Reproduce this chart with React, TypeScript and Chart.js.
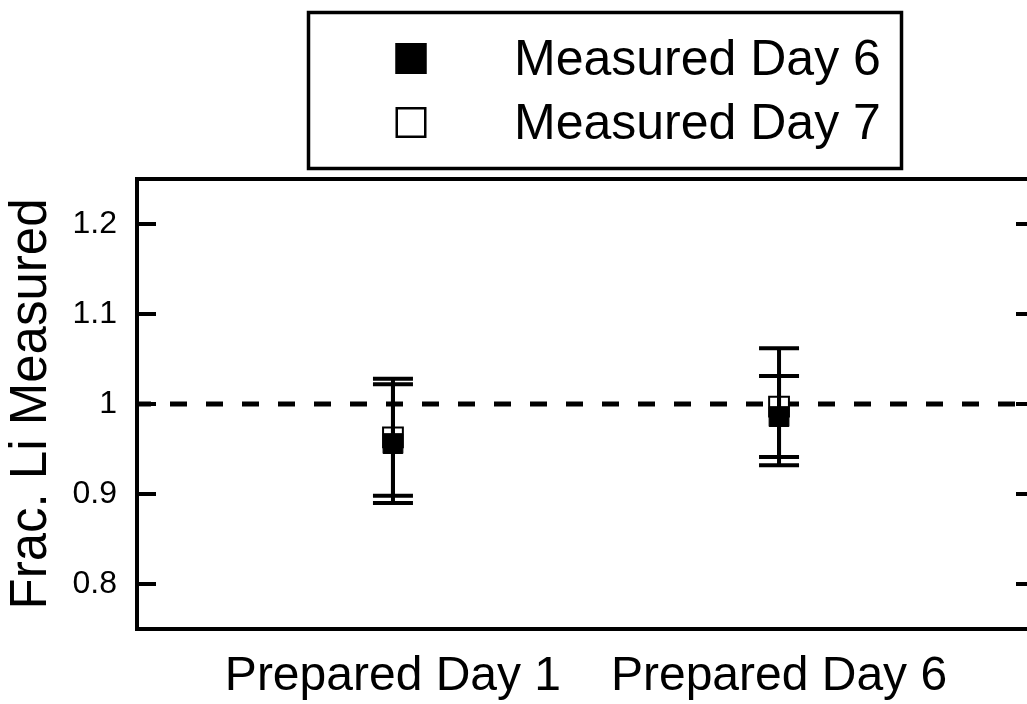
import React, { useEffect, useRef } from "react";
import { Chart, registerables } from "chart.js";

Chart.register(...registerables);

// ---------------- data ----------------
const CATEGORIES = ["Prepared Day 1", "Prepared Day 6"];
const CATEGORY_X = [1, 2];
const SERIES_LABELS = ["Measured Day 6", "Measured Day 7"];
const DAY6_MEAN = [0.956, 0.986];
const DAY6_ERR = [0.066, 0.045];
const DAY7_MEAN = [0.963, 0.997];
const DAY7_ERR = [0.065, 0.065];
const Y_TICKS = [0.8, 0.9, 1.0, 1.1, 1.2];
const Y_MIN = 0.75;
const Y_MAX = 1.25;
const X_MIN = 0.337;
const X_MAX = 2.663;
const REFERENCE_Y = 1;
const Y_TITLE = "Frac. Li Measured";

const FONT = "'Liberation Sans', Arial, Helvetica, sans-serif";

const referenceLinePlugin = {
  id: "referenceLine",
  beforeDatasetsDraw(chart: any) {
    const { ctx, chartArea } = chart;
    const y = chart.scales.y.getPixelForValue(REFERENCE_Y);
    ctx.save();
    ctx.strokeStyle = "#000";
    ctx.lineWidth = 5;
    ctx.setLineDash([17, 19]);
    ctx.lineDashOffset = 3;
    ctx.beginPath();
    ctx.moveTo(chartArea.left, y);
    ctx.lineTo(chartArea.right, y);
    ctx.stroke();
    ctx.restore();
  },
};

const errorBarPlugin = {
  id: "errorBars",
  afterDatasetsDraw(chart: any) {
    const { ctx } = chart;
    const xs = chart.scales.x;
    const ys = chart.scales.y;
    ctx.save();
    ctx.strokeStyle = "#000";
    ctx.lineWidth = 4;
    ctx.setLineDash([]);
    chart.data.datasets.forEach((ds: any) => {
      ds.data.forEach((p: any) => {
        const x = xs.getPixelForValue(p.x);
        const yt = ys.getPixelForValue(p.y + p.err);
        const yb = ys.getPixelForValue(p.y - p.err);
        ctx.beginPath();
        ctx.moveTo(x, yt);
        ctx.lineTo(x, yb);
        ctx.moveTo(x - 20, yt);
        ctx.lineTo(x + 20, yt);
        ctx.moveTo(x - 20, yb);
        ctx.lineTo(x + 20, yb);
        ctx.stroke();
      });
    });
    ctx.restore();
  },
};

const framePlugin = {
  id: "frame",
  afterDraw(chart: any) {
    const { ctx, chartArea } = chart;
    const { left, right, top, bottom } = chartArea;
    const ys = chart.scales.y;
    ctx.save();
    ctx.strokeStyle = "#000";
    ctx.lineWidth = 4;
    ctx.setLineDash([]);
    ctx.strokeRect(left, top, right - left, bottom - top);
    ys.ticks.forEach((t: any) => {
      const y = ys.getPixelForValue(t.value);
      ctx.beginPath();
      ctx.moveTo(left, y);
      ctx.lineTo(left + 19, y);
      ctx.moveTo(right - 19, y);
      ctx.lineTo(right, y);
      ctx.stroke();
    });
    ctx.restore();
  },
};

const boxLegendPlugin = {
  id: "boxLegend",
  afterDraw(chart: any) {
    const { ctx } = chart;
    ctx.save();
    ctx.strokeStyle = "#000";
    ctx.lineWidth = 3.5;
    ctx.setLineDash([]);
    ctx.strokeRect(308.5, 12.5, 593, 156);
    chart.data.datasets.forEach((ds: any, i: number) => {
      const cy = 58.5 + i * 64;
      ctx.fillStyle = ds.backgroundColor;
      ctx.fillRect(395.5, cy - 15.5, 31, 31);
      ctx.lineWidth = 2.5;
      ctx.strokeStyle = ds.borderColor;
      ctx.strokeRect(396.75, cy - 14.25, 28.5, 28.5);
      ctx.fillStyle = "#000";
      ctx.font = `50px ${FONT}`;
      ctx.textAlign = "left";
      ctx.textBaseline = "alphabetic";
      ctx.fillText(ds.label, 514, cy + 16);
    });
    ctx.restore();
  },
};

export default function App() {
  const ref = useRef<HTMLCanvasElement>(null);

  useEffect(() => {
    if (!ref.current) return;
    const chart = new Chart(ref.current, {
      type: "scatter",
      data: {
        datasets: [
          {
            label: SERIES_LABELS[0],
            data: CATEGORY_X.map((x, i) => ({ x, y: DAY6_MEAN[i], err: DAY6_ERR[i] })) as any,
            pointStyle: "rect",
            pointRadius: 14,
            pointHoverRadius: 14,
            backgroundColor: "#000",
            borderColor: "#000",
            borderWidth: 1,
          },
          {
            label: SERIES_LABELS[1],
            data: CATEGORY_X.map((x, i) => ({ x, y: DAY7_MEAN[i], err: DAY7_ERR[i] })) as any,
            pointStyle: "rect",
            pointRadius: 14,
            pointHoverRadius: 14,
            backgroundColor: "#fff",
            borderColor: "#000",
            borderWidth: 2,
          },
        ],
      },
      options: {
        animation: false,
        responsive: false,
        maintainAspectRatio: false,
        layout: { autoPadding: false, padding: { top: 179, right: 5, bottom: 0, left: 0 } },
        plugins: {
          legend: { display: false },
          tooltip: { enabled: false },
          title: { display: false },
        },
        scales: {
          x: {
            type: "linear",
            min: X_MIN,
            max: X_MAX,
            grid: { display: false, drawTicks: false },
            border: { display: false },
            afterBuildTicks: (scale: any) => {
              scale.ticks = CATEGORY_X.map((v) => ({ value: v }));
            },
            afterFit: (scale: any) => {
              scale.height = 75;
              scale.paddingLeft = 0;
              scale.paddingRight = 0;
            },
            ticks: {
              autoSkip: false,
              maxRotation: 0,
              padding: 19,
              color: "#000",
              font: { family: FONT, size: 48 },
              callback: (v: any) => {
                const idx = CATEGORY_X.indexOf(Number(v));
                return idx >= 0 ? CATEGORIES[idx] : "";
              },
            },
          },
          y: {
            type: "linear",
            min: Y_MIN,
            max: Y_MAX,
            grid: { display: false, drawTicks: false },
            border: { display: false },
            afterBuildTicks: (scale: any) => {
              scale.ticks = Y_TICKS.map((v) => ({ value: v }));
            },
            afterFit: (scale: any) => {
              scale.width = 137;
              scale.paddingTop = 0;
              scale.paddingBottom = 0;
            },
            ticks: {
              padding: 20,
              color: "#000",
              font: { family: FONT, size: 32 },
              callback: (v: any) => String(Number(Number(v).toFixed(2))),
            },
            title: {
              display: true,
              text: Y_TITLE,
              color: "#000",
              font: { family: FONT, size: 51, lineHeight: 1.2 },
              padding: { top: 1, bottom: 0 },
            },
          },
        },
      },
      plugins: [referenceLinePlugin, errorBarPlugin, framePlugin, boxLegendPlugin],
    } as any);
    return () => chart.destroy();
  }, []);

  return (
    <div
      style={{
        position: "fixed",
        left: 0,
        top: 0,
        width: 1027,
        height: 704,
        overflow: "hidden",
        background: "#fff",
      }}
    >
      <canvas
        ref={ref}
        width={1040}
        height={704}
        style={{ display: "block", width: 1040, height: 704 }}
      />
    </div>
  );
}
